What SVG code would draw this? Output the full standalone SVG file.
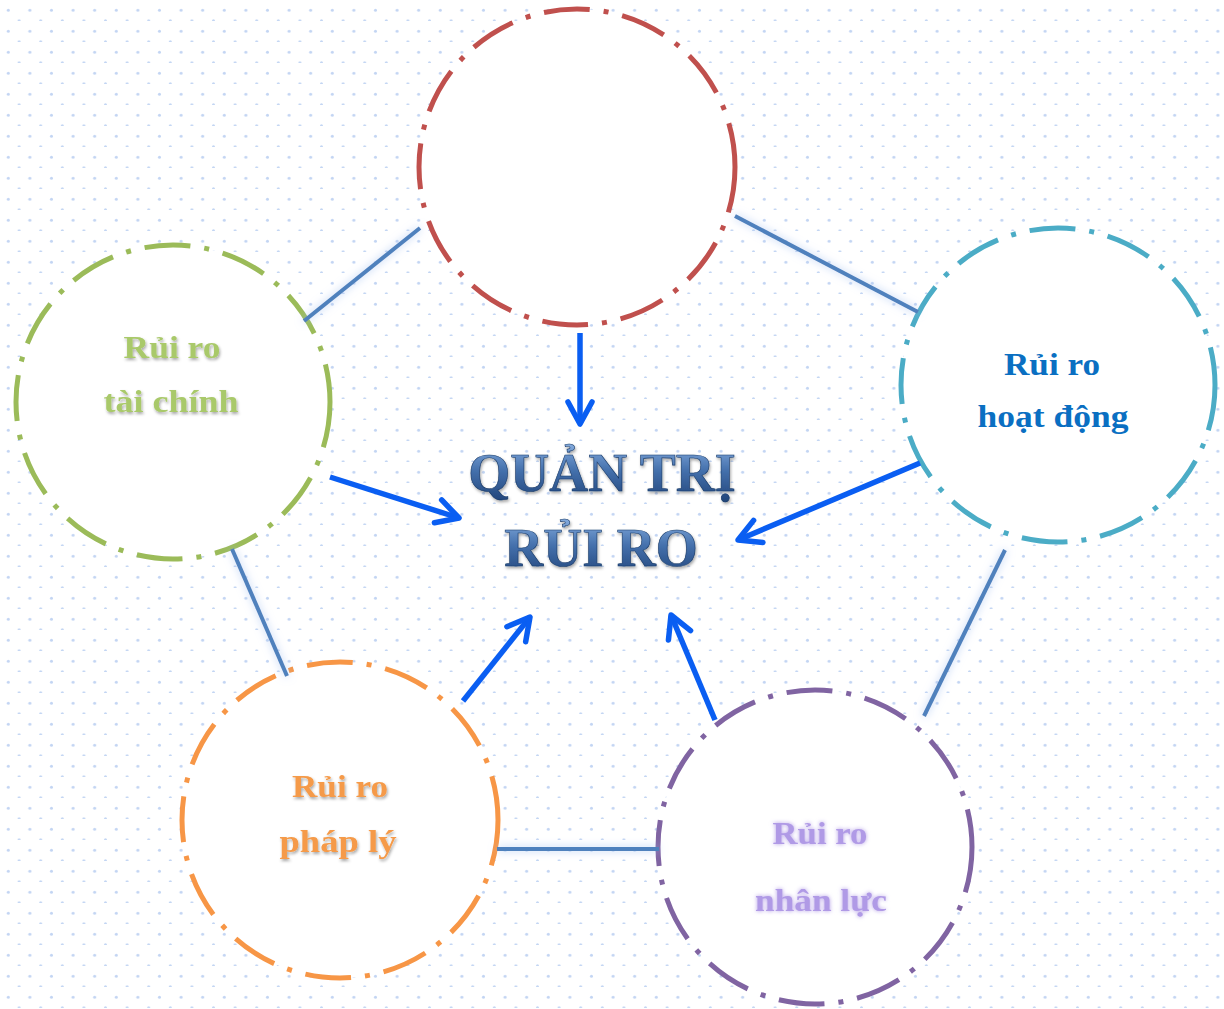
<svg xmlns="http://www.w3.org/2000/svg" width="1224" height="1009" viewBox="0 0 1224 1009">
<defs>
<pattern id="dots" x="0" y="0" width="21.6" height="21" patternUnits="userSpaceOnUse">
<circle cx="8.3" cy="10.3" r="1.5" fill="#c3d5f3"/>
<circle cx="19.1" cy="20.8" r="1.5" fill="#c3d5f3"/>
</pattern>
<linearGradient id="titleGrad" x1="0" y1="0" x2="0" y2="1">
<stop offset="0" stop-color="#86addf"/>
<stop offset="0.45" stop-color="#4571ad"/>
<stop offset="1" stop-color="#1f4378"/>
</linearGradient>
<filter id="glow" filterUnits="userSpaceOnUse" x="0" y="0" width="1224" height="1009">
<feGaussianBlur in="SourceAlpha" stdDeviation="4" result="b"/>
<feFlood flood-color="#9dbcf0" flood-opacity="0.7"/>
<feComposite in2="b" operator="in" result="g"/>
<feMerge><feMergeNode in="g"/><feMergeNode in="SourceGraphic"/></feMerge>
</filter>
<filter id="shadow" x="-20%" y="-30%" width="140%" height="160%">
<feGaussianBlur in="SourceAlpha" stdDeviation="1.5" result="b"/>
<feOffset in="b" dx="1" dy="2" result="o"/>
<feFlood flood-color="#000" flood-opacity="0.35"/>
<feComposite in2="o" operator="in" result="s"/>
<feMerge><feMergeNode in="s"/><feMergeNode in="SourceGraphic"/></feMerge>
</filter>
<filter id="soft" x="-20%" y="-30%" width="140%" height="160%">
<feGaussianBlur in="SourceGraphic" stdDeviation="2.2" result="b"/>
<feMerge><feMergeNode in="b"/><feMergeNode in="SourceGraphic"/></feMerge>
</filter>
<marker id="chev" markerUnits="userSpaceOnUse" markerWidth="40" markerHeight="40" viewBox="-30 -20 40 40" refX="0" refY="0" orient="auto" overflow="visible">
<path d="M-22,-12 L0,0 L-22,12" fill="none" stroke="#0a5ef2" stroke-width="5.5" stroke-linecap="round" stroke-linejoin="round"/>
</marker>
</defs>
<style>
.node{fill:#ffffff;stroke-width:5;stroke-dasharray:46 14 5 14}
.lbl{font-family:"Liberation Serif","Times New Roman",serif;font-weight:bold;font-size:31px;text-anchor:middle}
.title{font-family:"Liberation Serif","Times New Roman",serif;font-weight:bold;font-size:54px;text-anchor:middle;fill:url(#titleGrad);stroke:#173866;stroke-width:0.6}
.conn{stroke:#4f81bd;stroke-width:4;fill:none}
.arrow{stroke:#0a5ef2;stroke-width:5.5;fill:none;marker-end:url(#chev)}
</style>
<rect width="1224" height="1009" fill="#ffffff"/>
<rect width="1224" height="1009" fill="url(#dots)"/>

<g id="node-top">
<circle class="node" cx="577" cy="167" r="158" stroke="#c0504d"/>
</g>
<g id="node-taichinh">
<circle class="node" cx="173" cy="402" r="157" stroke="#9bbb59"/>
<text class="lbl" x="172" y="358" fill="#a9c96a" filter="url(#shadow)" textLength="97" lengthAdjust="spacingAndGlyphs">Rủi ro</text>
<text class="lbl" x="171" y="412" fill="#a9c96a" filter="url(#shadow)" textLength="135" lengthAdjust="spacingAndGlyphs">tài chính</text>
</g>
<g id="node-hoatdong">
<circle class="node" cx="1058" cy="385" r="157" stroke="#4bacc6"/>
<text class="lbl" x="1052" y="375" fill="#0a6fc2" textLength="96" lengthAdjust="spacingAndGlyphs">Rủi ro</text>
<text class="lbl" x="1053" y="427" fill="#0a6fc2" textLength="151" lengthAdjust="spacingAndGlyphs">hoạt động</text>
</g>
<g id="node-phaply">
<circle class="node" cx="340" cy="820" r="158" stroke="#f79646"/>
<text class="lbl" x="340" y="797" fill="#f59a48" filter="url(#shadow)" textLength="96" lengthAdjust="spacingAndGlyphs">Rủi ro</text>
<text class="lbl" x="338" y="852" fill="#f59a48" filter="url(#shadow)" textLength="117" lengthAdjust="spacingAndGlyphs">pháp lý</text>
</g>
<g id="node-nhanluc">
<circle class="node" cx="815" cy="847" r="157" stroke="#8064a2"/>
<text class="lbl" x="820" y="844" fill="#b09ae6" filter="url(#soft)" textLength="95" lengthAdjust="spacingAndGlyphs">Rủi ro</text>
<text class="lbl" x="821" y="911" fill="#b09ae6" filter="url(#soft)" textLength="132" lengthAdjust="spacingAndGlyphs">nhân lực</text>
</g>

<g id="connectors">
<g filter="url(#glow)">
<line class="conn" x1="420" y1="228" x2="304" y2="321"/>
<line class="conn" x1="735" y1="216" x2="918" y2="312"/>
<line class="conn" x1="232" y1="549" x2="287" y2="676"/>
<line class="conn" x1="1005" y1="550" x2="924" y2="716"/>
<line class="conn" x1="497" y1="849" x2="659" y2="849"/>
</g>
<line class="arrow" x1="580" y1="333" x2="580" y2="424"/>
<line class="arrow" x1="330" y1="477" x2="459" y2="518"/>
<line class="arrow" x1="920" y1="463" x2="738" y2="540"/>
<line class="arrow" x1="463" y1="701" x2="530" y2="617"/>
<line class="arrow" x1="715" y1="720" x2="671" y2="615"/>
</g>

<g id="center">
<text class="title" x="602" y="491" filter="url(#shadow)">QUẢN TRỊ</text>
<text class="title" x="601" y="566" filter="url(#shadow)">RỦI RO</text>
</g>
</svg>
